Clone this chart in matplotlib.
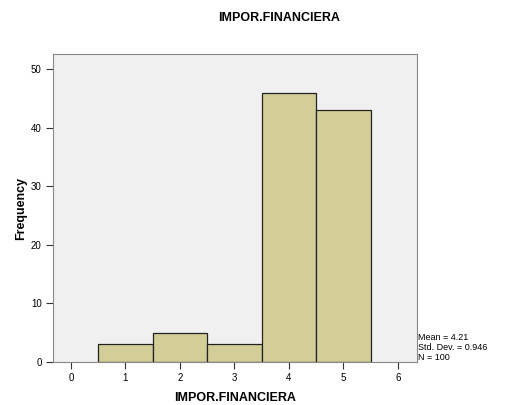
import matplotlib

matplotlib.use("Agg")
import matplotlib.pyplot as plt  # noqa: E402

plt.rcParams["font.family"] = ["Liberation Sans", "DejaVu Sans"]

# Histogram bins (value centre) and counts
categories = [1, 2, 3, 4, 5]
counts = [3, 5, 3, 46, 43]
xticks = [0, 1, 2, 3, 4, 5, 6]
yticks = [0, 10, 20, 30, 40, 50]
stats_text = "Mean = 4.21\nStd. Dev. = 0.946\nN = 100"

fig = plt.figure(figsize=(5.08, 4.05), dpi=100)
ax = fig.add_axes([0.104, 0.106, 0.717, 0.761])
ax.set_facecolor("#f0f0f0")

ax.bar(categories, counts, width=1.0, color="#d3ce98", edgecolor="#222222", linewidth=0.9)

ax.set_xlim(-0.33, 6.35)
ax.set_ylim(0, 52.6)
ax.set_xticks(xticks)
ax.set_yticks(yticks)
ax.tick_params(labelsize=7, length=5, width=0.8, color="#333333", pad=3)
for s in ax.spines.values():
    s.set_color("#888888")
    s.set_linewidth(0.8)

ax.set_xlabel("IMPOR.FINANCIERA", fontsize=9, fontweight="bold", labelpad=6)
ax.set_ylabel("Frequency", fontsize=9, fontweight="bold", labelpad=3)
fig.text(0.549, 0.955, "IMPOR.FINANCIERA", ha="center", va="center", fontsize=9, fontweight="bold")
fig.text(0.823, 0.141, stats_text, ha="left", va="center", fontsize=6.5, linespacing=1.15)

fig.savefig("out.png", dpi=100)
plt.close(fig)
